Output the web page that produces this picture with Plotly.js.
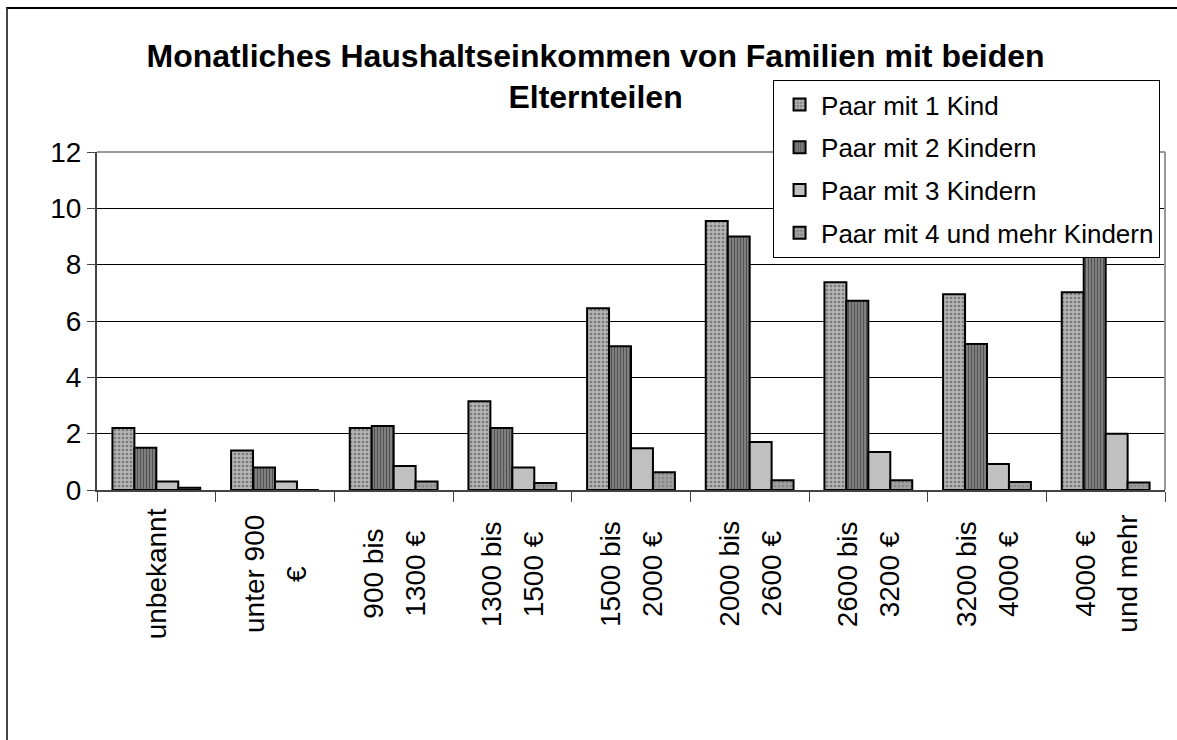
<!DOCTYPE html>
<html>
<head>
<meta charset="utf-8">
<script src="https://cdn.plot.ly/plotly-3.0.1.min.js"></script>
<style>
  html, body { margin: 0; padding: 0; background: #fff; }
  #wrap { position: relative; width: 1177px; height: 740px; }
  #chart { width: 1177px; height: 740px; }
  #frame { position: absolute; left: 6px; top: 7px; right: 0; bottom: 0;
           border-left: 2px solid #444; border-top: 2px solid #000; pointer-events: none; }
</style>
</head>
<body>
<div id="wrap">
  <div id="chart"></div>
  <div id="frame"></div>
</div>
<script>
const categories = [
  'unbekannt', 'unter 900 €', '900 bis 1300 €', '1300 bis 1500 €', '1500 bis 2000 €',
  '2000 bis 2600 €', '2600 bis 3200 €', '3200 bis 4000 €', '4000 € und mehr'
];
const labelLine1 = ['unbekannt', 'unter 900', '900 bis', '1300 bis', '1500 bis', '2000 bis', '2600 bis', '3200 bis', '4000 €'];
const labelLine2 = ['', '€', '1300 €', '1500 €', '2000 €', '2600 €', '3200 €', '4000 €', 'und mehr'];
const seriesNames = ['Paar mit 1 Kind', 'Paar mit 2 Kindern', 'Paar mit 3 Kindern', 'Paar mit 4 und mehr Kindern'];
const paar1 = [2.2, 1.4, 2.2, 3.15, 6.45, 9.55, 7.38, 6.95, 7.02];
const paar2 = [1.5, 0.8, 2.27, 2.2, 5.1, 9.0, 6.72, 5.18, 8.9];
const paar3 = [0.3, 0.3, 0.85, 0.8, 1.48, 1.7, 1.35, 0.92, 2.0];
const paar4 = [0.08, 0, 0.3, 0.25, 0.63, 0.35, 0.35, 0.28, 0.27];

const FONT = 'Liberation Sans, Arial, sans-serif';
const styles = [
  {color: '#aaaaaa', pattern: {shape: '.', bgcolor: '#b4b4b4', fgcolor: '#7a7a7a', size: 4, solidity: 0.35}},
  {color: '#777777', pattern: {shape: '|', bgcolor: '#808080', fgcolor: '#505050', size: 3, solidity: 0.35}},
  {color: '#c0c0c0'},
  {color: '#9a9a9a', pattern: {shape: '.', bgcolor: '#a0a0a0', fgcolor: '#888888', size: 4, solidity: 0.3}}
];
const values = [paar1, paar2, paar3, paar4];

const traces = values.map((v, i) => ({
  type: 'bar',
  name: seriesNames[i],
  x: categories,
  y: v,
  legendgroup: 'g' + i,
  marker: Object.assign({line: {color: '#000', width: 2}}, styles[i])
}));

// category labels: each wrapped line is placed as its own rotated text at the category
const LABEL_FONT = {family: FONT, size: 28, color: '#000'};
const annotations = [];
categories.forEach((c, i) => {
  const lines = [labelLine1[i], labelLine2[i]].filter(s => s);
  lines.forEach((t, k) => {
    annotations.push({
      x: c, xref: 'x', y: 0, yref: 'paper',
      text: t, textangle: -90, showarrow: false,
      xanchor: 'center', yanchor: 'middle',
      xshift: lines.length === 2 ? (k === 0 ? -21 : 21) : 0,
      yshift: -84,
      font: LABEL_FONT
    });
  });
});

const layout = {
  width: 1177, height: 740,
  margin: {l: 97, r: 12, t: 152, b: 250},
  paper_bgcolor: '#fff', plot_bgcolor: '#fff',
  font: {family: FONT, color: '#000', size: 26},
  title: {
    text: '<b>Monatliches Haushaltseinkommen von Familien mit beiden<br>Elternteilen</b>',
    font: {family: FONT, size: 32, color: '#000'},
    x: 0.506, xanchor: 'center', y: 0.91, yanchor: 'top'
  },
  barmode: 'group', bargap: 0.26, bargroupgap: 0,
  showlegend: true,
  legend: {
    x: 0.633, xanchor: 'left', y: 1.213, yanchor: 'top',
    bgcolor: '#fff', bordercolor: '#000', borderwidth: 1,
    font: {family: FONT, size: 26, color: '#000'},
    traceorder: 'grouped', tracegroupgap: 6,
    itemwidth: 33, indentation: 4
  },
  xaxis: {
    type: 'category', tickson: 'boundaries', ticks: 'outside', ticklen: 10, tickwidth: 1,
    tickcolor: '#444', showticklabels: false, showgrid: false,
    showline: true, linecolor: '#444', linewidth: 2
  },
  yaxis: {
    range: [0, 12], dtick: 2, tick0: 0, ticks: 'outside', ticklen: 8, tickwidth: 1, tickcolor: '#444',
    showgrid: true, gridcolor: '#000', gridwidth: 1, zeroline: false,
    showline: true, linecolor: '#444', linewidth: 2,
    tickfont: {family: FONT, size: 28, color: '#000'}
  },
  annotations: annotations,
  shapes: [
    {type: 'line', xref: 'paper', yref: 'paper', x0: 0, x1: 1, y0: 1, y1: 1, line: {color: '#999', width: 2}, layer: 'above'},
    {type: 'line', xref: 'paper', yref: 'paper', x0: 1, x1: 1, y0: 0, y1: 1, line: {color: '#999', width: 2}, layer: 'above'}
  ]
};

Plotly.newPlot('chart', traces, layout, {displayModeBar: false, staticPlot: true});
</script>
</body>
</html>
